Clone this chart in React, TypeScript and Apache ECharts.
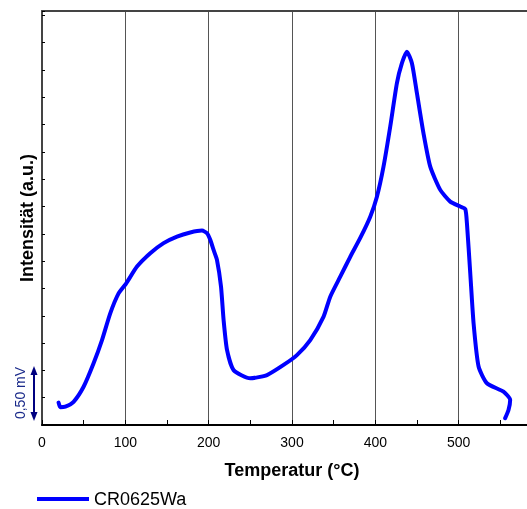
import React, { useEffect, useRef } from "react";
import * as echarts from "echarts";

// Temperature (°C) along the trace
const temperature = [19.9, 22.0, 28.0, 37.9, 49.9, 61.9, 72.0, 81.9, 91.9, 101.1, 114.0, 129.9, 145.9, 162.0, 177.9, 192.0, 198.0, 201.9, 205.9, 210.0, 214.8, 217.9, 222.0, 229.9, 249.9, 270.0, 289.9, 305.9, 321.9, 337.9, 345.9, 357.9, 369.9, 381.9, 393.9, 401.9, 409.8, 417.9, 425.9, 431.9, 437.9, 443.9, 449.9, 457.8, 465.9, 477.9, 489.9, 501.9, 507.9, 509.9, 513.9, 517.9, 523.9, 533.9, 553.8, 561.8, 559.8, 555.8];
// Intensity (a.u.)
const intensity = [0.82, 0.65, 0.67, 0.85, 1.40, 2.26, 3.11, 4.09, 4.82, 5.19, 5.80, 6.29, 6.66, 6.90, 7.05, 7.12, 7.02, 6.78, 6.41, 6.04, 5.07, 3.85, 2.75, 2.01, 1.71, 1.83, 2.20, 2.56, 3.11, 3.97, 4.70, 5.43, 6.16, 6.85, 7.63, 8.36, 9.46, 10.93, 12.52, 13.25, 13.67, 13.25, 12.15, 10.68, 9.46, 8.61, 8.18, 8.00, 7.91, 7.39, 5.56, 3.72, 2.14, 1.53, 1.22, 0.92, 0.55, 0.25];

const seriesName = "CR0625Wa";
const xTitle = "Temperatur (°C)";
const yTitle = "Intensität (a.u.)";
const scaleLabel = "0,50 mV";

const FONT = "Liberation Sans, Arial, sans-serif";

export default function App() {
  const ref = useRef<HTMLDivElement>(null);
  useEffect(() => {
    if (!ref.current) return;
    const chart = echarts.init(ref.current, undefined, { renderer: "svg" });
    const data = temperature.map((t, i) => [t, intensity[i]]);
    chart.setOption({
      animation: false,
      textStyle: { fontFamily: FONT },
      grid: { left: 42, top: 11, width: 500, height: 414, containLabel: false, outerBoundsMode: "none" },
      legend: {
        data: [seriesName],
        left: 37,
        top: 490,
        padding: 0,
        icon: "rect",
        itemWidth: 52,
        itemHeight: 4,
        itemGap: 5,
        textStyle: { fontSize: 18, color: "#000", fontFamily: FONT },
      },
      xAxis: [
        {
          type: "value",
          min: 0,
          max: 600,
          interval: 50,
          position: "bottom",
          name: xTitle,
          nameLocation: "middle",
          nameGap: 36,
          nameTextStyle: { fontSize: 18, fontWeight: "bold", color: "#000", fontFamily: FONT },
          axisLine: { show: true, lineStyle: { color: "#000", width: 2 } },
          axisTick: { show: true, inside: true, length: 5, lineStyle: { color: "#000", width: 1 } },
          axisLabel: {
            fontSize: 14,
            color: "#000",
            margin: 10,
            fontFamily: FONT,
            formatter: (v: number) => (v % 100 === 0 && v < 600 ? String(v) : ""),
          },
          splitLine: { show: false },
        },
        {
          type: "value",
          min: 0,
          max: 600,
          interval: 100,
          position: "bottom",
          gridIndex: 0,
          axisLine: { show: false },
          axisTick: { show: false },
          axisLabel: { show: false },
          splitLine: { show: true, lineStyle: { color: "#555", width: 1 } },
        },
        {
          type: "value",
          min: 0,
          max: 600,
          position: "top",
          axisLine: { show: true, lineStyle: { color: "#444", width: 2 } },
          axisTick: { show: false },
          axisLabel: { show: false },
          splitLine: { show: false },
        },
      ],
      yAxis: {
        type: "value",
        min: 0,
        max: 15.16,
        interval: 1,
        name: yTitle,
        nameLocation: "middle",
        nameGap: 6,
        nameTextStyle: { fontSize: 18, fontWeight: "bold", color: "#000", fontFamily: FONT },
        axisLine: { show: true, lineStyle: { color: "#444", width: 2 } },
        axisTick: { show: true, inside: true, length: 3, lineStyle: { color: "#000", width: 1 } },
        axisLabel: { show: false },
        splitLine: { show: false },
      },
      graphic: [
        {
          type: "line",
          shape: { x1: 34, y1: 372, x2: 34, y2: 415 },
          style: { stroke: "#000080", lineWidth: 2 },
        },
        {
          type: "polygon",
          shape: { points: [[34, 366], [30.5, 375], [37.5, 375]] },
          style: { fill: "#000080" },
        },
        {
          type: "polygon",
          shape: { points: [[34, 421], [30.5, 412], [37.5, 412]] },
          style: { fill: "#000080" },
        },
        {
          type: "text",
          x: 20,
          y: 393,
          rotation: Math.PI / 2,
          style: {
            text: scaleLabel,
            fontSize: 14,
            fill: "#1a2a8a",
            fontFamily: FONT,
            align: "center",
            verticalAlign: "middle",
          },
        },
      ],
      series: [
        {
          name: seriesName,
          type: "line",
          xAxisIndex: 0,
          data,
          smooth: 0.2,
          showSymbol: false,
          symbol: "none",
          color: "#0000ff",
          lineStyle: { color: "#0000ff", width: 4, cap: "round", join: "round" },
        },
      ],
    });
    return () => chart.dispose();
  }, []);
  return <div ref={ref} style={{ position: "fixed", left: 0, top: 0, width: 527, height: 509 }} />;
}
